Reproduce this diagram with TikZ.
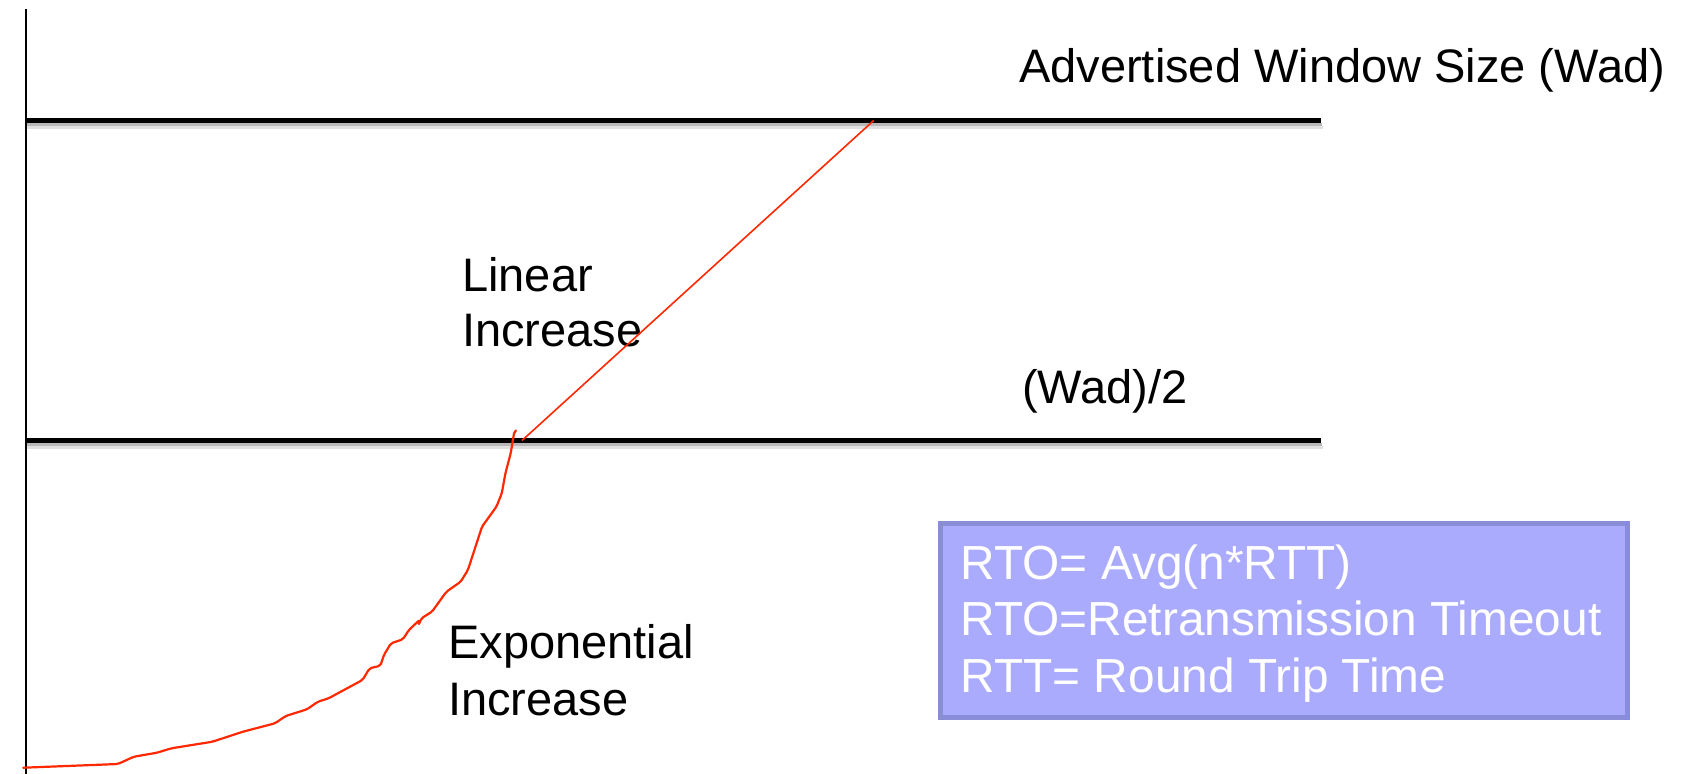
\documentclass[tikz,border=0pt]{standalone}
\usepackage{fontspec}
\setmainfont{Liberation Sans}
\definecolor{boxfill}{RGB}{170,171,253}
\definecolor{boxline}{RGB}{137,140,214}
\definecolor{curvered}{RGB}{255,40,0}
\begin{document}
\begin{tikzpicture}[x=1pt,y=-1pt,
  lbl/.style={inner sep=0pt, anchor=base west, font=\fontsize{47}{56}\selectfont},
  boxlbl/.style={inner sep=0pt, anchor=base west, font=\fontsize{47.8}{56}\selectfont, text=white},
  level/.style={line width=5pt, black},
  shadowa/.style={line width=3pt, black!28},
  shadowb/.style={line width=3pt, black!12},
  redline/.style={curvered, line width=2.2pt, line join=round, line cap=round, rounded corners=2pt},
  axisline/.style={line width=2pt, black}]
\useasboundingbox (0,0) rectangle (1701,774);

% level lines with soft shadow
\coordinate (topL) at (25,120);
\coordinate (topR) at (1321,120);
\coordinate (midL) at (25,440);
\coordinate (midR) at (1321,440);
\draw[shadowb] ([yshift=-7.5pt]topL) -- ([yshift=-7.5pt,xshift=2pt]topR);
\draw[shadowa] ([yshift=-4.5pt]topL) -- ([yshift=-4.5pt,xshift=1pt]topR);
\draw[shadowb] ([yshift=-7.5pt]midL) -- ([yshift=-7.5pt,xshift=2pt]midR);
\draw[shadowa] ([yshift=-4.5pt]midL) -- ([yshift=-4.5pt,xshift=1pt]midR);
\draw[level] (topL) -- (topR);
\draw[level] (midL) -- (midR);

% vertical axis
\coordinate (axT) at (25.5,9);
\coordinate (axB) at (25.5,774);
\draw[axisline] (axT) -- (axB);

% labels
\node[lbl] (wad) at (1019,82.5) {Advertised Window Size (Wad)};
\node[lbl] (wad2) at (1022,403) {(Wad)/2};
\node[lbl] (lin1) at (462,291) {Linear};
\node[lbl] (lin2) at (462,346.7) {Increase};
\node[lbl] (exp1) at (448,658.3) {Exponential};
\node[lbl] (exp2) at (448,715) {Increase};

% exponential curve
\draw[redline] (23.2,767.7) -- (117.9,764) -- (133.9,756.7) -- (157,752.7)
  -- (171.4,748.3) -- (212.5,741.7) -- (242.9,731.7) -- (275,723.3)
  -- (285.7,716) -- (307,709.3) -- (317.9,701.7) -- (328.6,698.3)
  -- (350,686.7) -- (362.5,680) -- (369.6,668.3) -- (380.4,665.7)
  -- (383.9,655) -- (391,643.3) -- (402.9,639.3) -- (408.9,630)
  -- (419.5,620) -- (418.6,625) -- (421.4,618.3) -- (432,611.7)
  -- (446.4,591.7) -- (460.7,581.7) -- (467.9,570) -- (482,526.7)
  -- (496.4,506.7) -- (501.8,493.3) -- (505.4,473.3) -- (510.7,453.3)
  -- (514.3,431.7) -- (515.8,430.5);

% linear increase
\coordinate (linA) at (522,440.5);
\coordinate (linB) at (873.7,120.5);
\draw[curvered, line width=1.6pt] (linA) -- (linB);

% info box
\node[draw=boxline, fill=boxfill, line width=5pt, minimum width=687pt,
      minimum height=194pt, inner sep=0pt, anchor=north west] (box) at (937.5,520.5) {};
\node[boxlbl] (rto1) at (960.5,579) {RTO= Avg(n*RTT)};
\node[boxlbl] (rto2) at (960.5,635.5) {RTO=Retransmission Timeout};
\node[boxlbl] (rto3) at (960.5,692.5) {RTT= Round Trip Time};
\end{tikzpicture}
\end{document}
